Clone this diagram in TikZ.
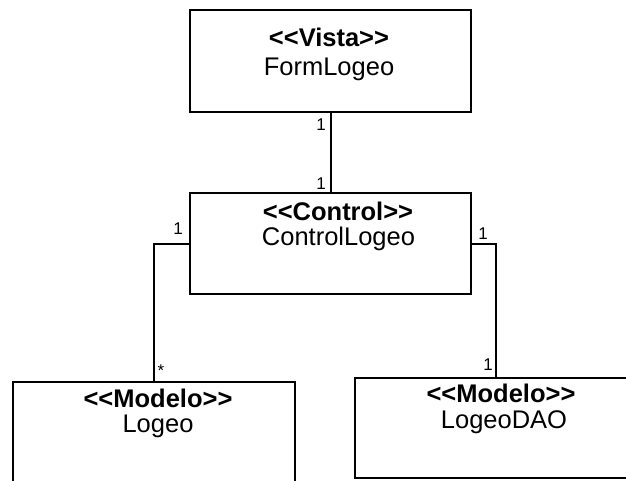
\documentclass[tikz,border=0pt]{standalone}
\usepackage{fontspec}
\setmainfont{Liberation Sans}
\begin{document}
\begin{tikzpicture}[x=1pt,y=-1pt,
  umlbox/.style={draw=black,line width=2pt,rectangle,inner sep=0pt},
  stereo/.style={anchor=base,inner sep=0pt,font=\fontsize{25.5}{30}\selectfont\bfseries},
  cname/.style={anchor=base,inner sep=0pt,font=\fontsize{25.5}{30}\selectfont},
  mult/.style={inner sep=0pt,font=\fontsize{17}{20}\selectfont},
  conn/.style={line width=2pt}]
\useasboundingbox (0,0) rectangle (626,481);
\clip (0,0) rectangle (626,481);
\fill[white] (0,0) rectangle (626,481);
% boxes
\node[umlbox,minimum width=281pt,minimum height=102pt] (vista) at (330.5,61) {};
\node[umlbox,minimum width=281pt,minimum height=101pt] (control) at (330.5,243.5) {};
\node[umlbox,minimum width=282pt,minimum height=100pt] (logeo) at (154,432) {};
\node[umlbox,minimum width=282pt,minimum height=100pt] (dao) at (496,428) {};
% texts
\node[stereo] (t1) at (329,47) {<{}<Vista>{}>};
\node[cname] (t2) at (329,76) {FormLogeo};
\node[stereo] (t3) at (338,220) {<{}<Control>{}>};
\node[cname] (t4) at (338.5,245) {ControlLogeo};
\node[stereo] (t5) at (158,407) {<{}<Modelo>{}>};
\node[cname] (t6) at (158,432) {Logeo};
\node[stereo] (t7) at (501,402) {<{}<Modelo>{}>};
\node[cname] (t8) at (504,428) {LogeoDAO};
% connectors
\draw[conn] (vista.south) -- (control.north);
\draw[conn] (control.west) -| (logeo.north);
\draw[conn] (control.east) -| (dao.north);
% multiplicities
\node[mult] (m1) at (321,125) {1};
\node[mult] (m2) at (321,184) {1};
\node[mult] (m3) at (178,229) {1};
\node[mult] (m4) at (161,371) {*};
\node[mult] (m5) at (483,234) {1};
\node[mult] (m6) at (488,365) {1};
\end{tikzpicture}
\end{document}
